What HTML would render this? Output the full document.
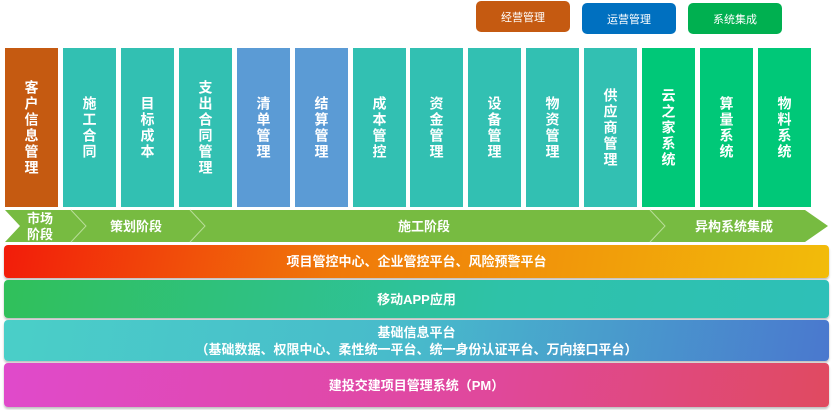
<!DOCTYPE html>
<html><head><meta charset="utf-8"><style>
body{margin:0;width:832px;height:410px;background:#fff;position:relative;overflow:hidden;font-family:"Liberation Sans","Noto Sans CJK SC",sans-serif;font-weight:bold}
.lg{position:absolute;height:31px;border-radius:5px;color:#fff;font-size:11px;font-weight:normal;display:flex;align-items:center;justify-content:center}
.col{position:absolute;top:48px;width:53px;height:159px;color:#fff;font-size:14px;display:flex;justify-content:center;align-items:center;writing-mode:vertical-rl;text-orientation:upright;letter-spacing:2px}
.ly{position:absolute;left:4px;width:825px;border-radius:4px;color:#fff;font-size:13px;display:flex;flex-direction:column;align-items:center;justify-content:center;box-shadow:0 2px 2px rgba(0,0,0,.25);line-height:17px}
</style></head><body>
<div class="lg" style="left:476px;top:1px;width:94px;background:#C55A11">经营管理</div>
<div class="lg" style="left:582px;top:3px;width:94px;background:#0070C0">运营管理</div>
<div class="lg" style="left:688px;top:3px;width:94px;background:#00B050">系统集成</div>

<div class="col" style="left:5px;background:#C55A11">客户信息管理</div>
<div class="col" style="left:63px;background:#32C0B2">施工合同</div>
<div class="col" style="left:121px;background:#32C0B2">目标成本</div>
<div class="col" style="left:179px;background:#32C0B2">支出合同管理</div>
<div class="col" style="left:237px;background:#5B9BD5">清单管理</div>
<div class="col" style="left:295px;background:#5B9BD5">结算管理</div>
<div class="col" style="left:353px;background:#32C0B2">成本管控</div>
<div class="col" style="left:410px;background:#32C0B2">资金管理</div>
<div class="col" style="left:468px;background:#32C0B2">设备管理</div>
<div class="col" style="left:526px;background:#32C0B2">物资管理</div>
<div class="col" style="left:584px;background:#32C0B2">供应商管理</div>
<div class="col" style="left:642px;background:#00C878">云之家系统</div>
<div class="col" style="left:700px;background:#00C878">算量系统</div>
<div class="col" style="left:758px;background:#00C878">物料系统</div>

<svg style="position:absolute;left:0;top:0" width="832" height="410">
<polygon points="5,210 805,210 828,226 805,242 5,242 20,226" fill="#77BB41"/>
<g stroke="#B9DE99" stroke-width="1" fill="none">
<polyline points="71,210 86,226 71,242"/>
<polyline points="190,210 205,226 190,242"/>
<polyline points="650,210 665,226 650,242"/>
</g>
<g fill="#fff" font-size="13" font-weight="bold" font-family="Liberation Sans,Noto Sans CJK SC,sans-serif">
<text x="27" y="223">市场</text><text x="27" y="239">阶段</text>
<text x="110" y="231">策划阶段</text>
<text x="398" y="231">施工阶段</text>
<text x="695" y="231">异构系统集成</text>
</g>
</svg>

<div class="ly" style="top:245px;height:33px;background:linear-gradient(100deg,#F21C0A,#F0780A 40%,#F2BC0A)">项目管控中心、企业管控平台、风险预警平台</div>
<div class="ly" style="top:280px;height:38px;background:linear-gradient(100deg,#30C05A,#2EC2A8 60%,#2EC0B8)">移动APP应用</div>
<div class="ly" style="top:320px;height:41px;background:linear-gradient(100deg,#4ACFC8,#48BACB 50%,#4A78CE)"><div>基础信息平台</div><div>（基础数据、权限中心、柔性统一平台、统一身份认证平台、万向接口平台）</div></div>
<div class="ly" style="top:363px;height:44px;background:linear-gradient(100deg,#E04ACB,#E0489A 60%,#E04A60)">建投交建项目管理系统（PM）</div>
</body></html>
